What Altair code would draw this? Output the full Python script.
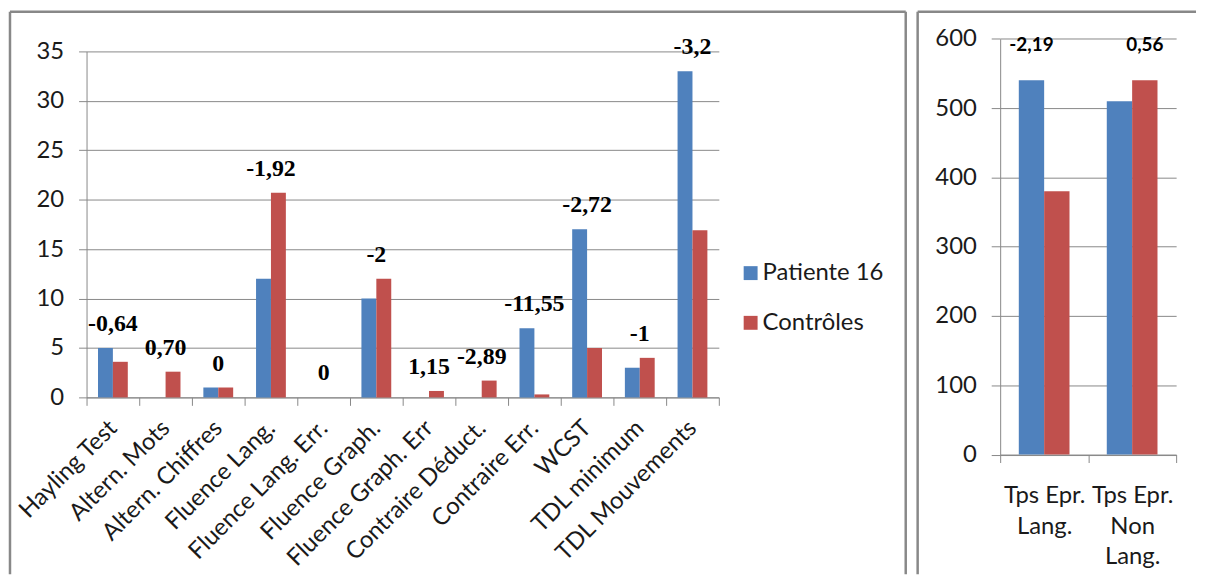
import altair as alt
import pandas as pd

# ---- data (left panel) ----
categories = ["Hayling Test", "Altern. Mots", "Altern. Chiffres", "Fluence Lang.",
              "Fluence Lang. Err.", "Fluence Graph.", "Fluence Graph. Err",
              "Contraire Déduct.", "Contraire Err.", "WCST", "TDL minimum",
              "TDL Mouvements"]
patiente = [5, 0, 1, 12, 0, 10, 0, 0, 7, 17, 3, 33]
controles = [3.6, 2.6, 1, 20.7, 0, 12, 0.65, 1.7, 0.3, 5, 4, 16.9]
labels = ["-0,64", "0,70", "0", "-1,92", "0", "-2", "1,15", "-2,89", "-11,55",
          "-2,72", "-1", "-3,2"]

# ---- data (right panel) ----
categories2 = ["Tps Epr.\nLang.", "Tps Epr.\nNon\nLang."]
patiente2 = [540, 510]
controles2 = [380, 540]
labels2 = ["-2,19", "0,56"]

series = ["Patiente 16", "Contrôles"]
colors = ["#4F81BD", "#C0504D"]

GRAY = "#888888"
TXT = "#1a1a1a"
FS = 24


def long_df(cats, a, b):
    rows = []
    for c, va, vb in zip(cats, a, b):
        rows.append({"cat": c, "series": series[0], "value": va})
        rows.append({"cat": c, "series": series[1], "value": vb})
    return pd.DataFrame(rows)


def label_df(cats, a, b, labs):
    return pd.DataFrame({"cat": cats, "top": [max(x, y) for x, y in zip(a, b)],
                         "series": [series[0] if x >= y else series[1]
                                    for x, y in zip(a, b)],
                         "label": labs})


df1 = long_df(categories, patiente, controles)
lab1 = label_df(categories, patiente, controles, labels)
df2 = long_df(categories2, patiente2, controles2)
lab2 = label_df(categories2, patiente2, controles2, labels2)
one = pd.DataFrame({"k": [0]})

TOP = -40      # box top, relative to the plot tops
BOT = 526      # box bottom, relative to the plot tops

# ---- left panel ----
W1, H1 = 636, 348
xl = alt.X("cat:N", sort=categories, scale=alt.Scale(paddingInner=0, paddingOuter=0),
           axis=alt.Axis(title=None, labelAngle=315, labelAlign="right",
                         labelBaseline="middle", labelFont="Lato", labelFontSize=FS,
                         labelColor=TXT, labelPadding=19, labelLimit=400,
                         labelOverlap=False, tickBand="extent", tickSize=8,
                         tickColor=GRAY, domainColor=GRAY, grid=False))
yl = alt.Y("value:Q", scale=alt.Scale(domain=[0, 35], nice=False),
           axis=alt.Axis(title=None, values=list(range(0, 40, 5)), labelFont="Lato",
                         labelFontSize=FS, labelColor=TXT, labelPadding=15,
                         tickSize=8, tickColor=GRAY, domainColor=GRAY,
                         gridColor=GRAY, gridWidth=1))

bars1 = alt.Chart(df1).mark_bar().encode(
    x=xl,
    xOffset=alt.XOffset("series:N", sort=series,
                        scale=alt.Scale(paddingInner=0, paddingOuter=0.767)),
    y=yl,
    color=alt.Color("series:N", sort=series,
                    scale=alt.Scale(domain=series, range=colors),
                    legend=alt.Legend(title=None, orient="none", legendX=656,
                                      legendY=211, symbolType="square",
                                      symbolSize=196, symbolStrokeWidth=0,
                                      labelFont="Lato", labelFontSize=FS,
                                      labelColor=TXT, rowPadding=26, padding=0,
                                      labelOffset=0)),
)
text1 = alt.Chart(lab1).mark_text(font="Liberation Serif", fontWeight="bold",
                                  fontSize=24, baseline="middle", dy=-24,
                                  color="#000000").encode(
    x=alt.X("cat:N", sort=categories), y=alt.Y("top:Q"), text="label:N")

border1 = alt.layer(
    alt.Chart(one).mark_rule(color=GRAY, strokeWidth=2.5).encode(
        x=alt.value(-77), x2=alt.value(824), y=alt.value(TOP)),
    alt.Chart(one).mark_rule(color=GRAY, strokeWidth=2.5).encode(
        x=alt.value(-77), y=alt.value(TOP), y2=alt.value(BOT)),
    alt.Chart(one).mark_rule(color=GRAY, strokeWidth=2.5).encode(
        x=alt.value(824), y=alt.value(TOP), y2=alt.value(BOT)),
)

left = alt.layer(bars1, text1, border1).properties(width=W1, height=H1)

# ---- right panel ----
# its plot top is aligned with the left one; the value axis reaches higher
W2, H2 = 177, 405.5
xr = alt.X("cat:N", sort=categories2, scale=alt.Scale(paddingInner=0, paddingOuter=0),
           axis=alt.Axis(title=None, labelAngle=0, labelAlign="center",
                         labelBaseline="top", labelFont="Lato", labelFontSize=FS,
                         labelColor=TXT, labelPadding=21, labelLineHeight=31,
                         labelExpr="split(datum.label, '\\n')", tickBand="extent",
                         tickSize=8, tickColor=GRAY, domainColor=GRAY, grid=False))
yr = alt.Y("value:Q", scale=alt.Scale(domain=[0, 600], nice=False,
                                      range=[H2, -12.7]),
           axis=alt.Axis(title=None, values=list(range(0, 700, 100)),
                         labelFont="Lato", labelFontSize=FS, labelColor=TXT,
                         labelPadding=15, tickSize=9, tickColor=GRAY,
                         domainColor=GRAY, gridColor=GRAY, gridWidth=1))
xoff2 = alt.XOffset("series:N", sort=series,
                    scale=alt.Scale(paddingInner=0, paddingOuter=0.735))
bars2 = alt.Chart(df2).mark_bar().encode(
    x=xr,
    xOffset=xoff2,
    y=yr,
    color=alt.Color("series:N", sort=series,
                    scale=alt.Scale(domain=series, range=colors), legend=None),
)
# labels above the taller bar of each group
text2 = alt.Chart(lab2).mark_text(font="Lato", fontWeight="bold", fontSize=19,
                                  baseline="middle", dy=-36,
                                  color="#000000").encode(
    x=alt.X("cat:N", sort=categories2), xOffset=xoff2, y=alt.Y("top:Q"),
    text="label:N")
border2 = alt.layer(
    alt.Chart(one).mark_rule(color=GRAY, strokeWidth=2.5).encode(
        x=alt.value(-83), x2=alt.value(197), y=alt.value(TOP)),
    alt.Chart(one).mark_rule(color=GRAY, strokeWidth=2.5).encode(
        x=alt.value(-83), y=alt.value(TOP), y2=alt.value(BOT)),
)
right = alt.layer(bars2, text2, border2).properties(width=W2, height=H2)

chart = alt.hconcat(left, right, spacing=8).resolve_scale(
    color="independent", xOffset="independent").properties(
    padding=0, background="white").configure_view(stroke=None)

chart.save("out.html", embed_options={"renderer": "svg", "actions": False})
